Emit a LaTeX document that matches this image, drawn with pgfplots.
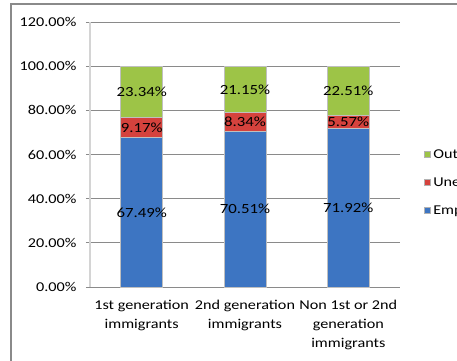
\documentclass[border=0pt]{standalone}
\usepackage{pgfplots}
\pgfplotsset{compat=1.18}
\usepackage{fontspec}
\setmainfont{Carlito}[FakeStretch=1.2]
\definecolor{cGreen}{HTML}{9DC447}
\definecolor{cRed}{HTML}{D5423D}
\definecolor{cBlue}{HTML}{3D75C2}
\definecolor{cGrid}{HTML}{8A8A8A}
\definecolor{cAxis}{HTML}{D4D4D4}
\begin{document}
\begin{tikzpicture}[x=1pt,y=1pt]
\useasboundingbox (0,0) rectangle (457,360);
\clip (0,0) rectangle (457,360);
\draw[color=cGrid, line width=1.2pt] (11,-5) -- (11,356) -- (470,356);
\begin{axis}[
  at={(90pt,73pt)}, anchor=south west,
  scale only axis, width=310pt, height=265pt,
  ybar stacked, bar width=42pt,
  xmin=-0.5, xmax=2.5, ymin=0, ymax=120,
  ytick={0,20,...,120},
  yticklabel={\pgfmathprintnumber[fixed,fixed zerofill,precision=2]{\tick}\%},
  /pgf/number format/assume math mode=true,
  xtick={0,1,2},
  xticklabels={{1st generation\\immigrants},{2nd generation\\immigrants},{Non 1st or 2nd\\generation\\immigrants}},
  xticklabel style={align=center, font=\fontsize{13.5}{19}\selectfont, yshift=-6pt},
  yticklabel style={font=\fontsize{13.5}{15}\selectfont, xshift=-6pt},
  extra x ticks={0.5,1.5,2.5}, extra x tick labels={},
  extra x tick style={major tick length=4pt, tick style={draw=cAxis, line width=1.2pt}, grid=none, tickpos=left, tick align=outside},
  major x tick style={draw=none},
  ymajorgrids, grid style={cGrid, line width=0.7pt},
  axis y line*=left, axis x line*=bottom,
  y axis line style={draw=cAxis, line width=2.5pt, -},
  x axis line style={draw=cGrid, line width=0.8pt, -},
  ytick style={draw=cGrid, line width=0.7pt},
  tick align=outside, major tick length=4pt,
  reverse legend, legend cell align=left,
  legend style={at={(rel axis cs:1.068,0.395)}, anchor=west, draw=none, fill=none,
    font=\fontsize{13.5}{15}\selectfont, row sep=13pt,
    /tikz/every even column/.append style={column sep=3pt}},
  legend image code/.code={\draw[#1, draw=gray!60] (0,-3pt) rectangle (6pt,3pt);},
  clip=false,
]
\addplot[fill=cBlue, draw=gray!50, line width=1pt] coordinates {(0,67.49) (1,70.51) (2,71.92)};
\addlegendentry{Employed}
\addplot[fill=cRed, draw=gray!50, line width=1pt] coordinates {(0,9.17) (1,8.34) (2,5.57)};
\addlegendentry{Unemployed}
\addplot[fill=cGreen, draw=gray!50, line width=1pt] coordinates {(0,23.34) (1,21.15) (2,22.51)};
\addlegendentry{Out of the labour force}
\end{axis}
\begin{axis}[
  at={(90pt,73pt)}, anchor=south west,
  scale only axis, width=310pt, height=265pt,
  xmin=-0.5, xmax=2.5, ymin=0, ymax=120,
  hide axis, clip=false,
]
\addplot[only marks, mark=none, nodes near coords, point meta=explicit symbolic,
  nodes near coords align={center},
  every node near coord/.append style={font=\fontsize{14}{15}\selectfont, text=black}]
  table[meta=label] {
x y label
0 33.745 67.49\%
1 35.255 70.51\%
2 35.96 71.92\%
0 72.075 9.17\%
1 74.68 8.34\%
2 74.705 5.57\%
0 88.33 23.34\%
1 89.425 21.15\%
2 88.745 22.51\%
};
\end{axis}
\end{tikzpicture}
\end{document}
